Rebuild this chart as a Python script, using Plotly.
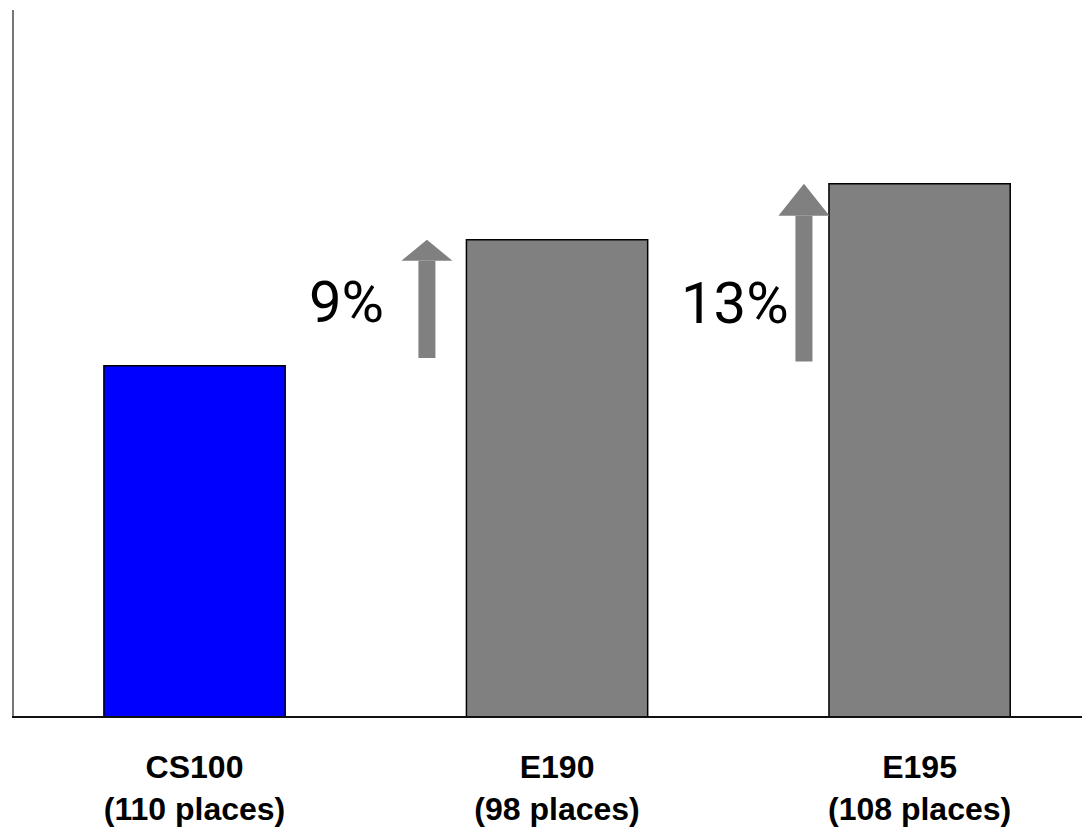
import plotly.graph_objects as go

categories = ["<b>CS100</b><br><b>(110 places)</b>", "<b>E190</b><br><b>(98 places)</b>", "<b>E195</b><br><b>(108 places)</b>"]
values = [100, 109, 113]
colors = ["#0000FF", "#808080", "#808080"]
pct_labels = ["9%", "13%"]
arrow_x = [0.641, 1.681]
label_x = [0.418, 1.492]

xs = list(range(len(categories)))

fig = go.Figure()
fig.add_trace(go.Bar(
    x=xs, y=values, width=0.5,
    marker=dict(color=colors, line=dict(color="black", width=1.5)),
    hoverinfo="skip", showlegend=False,
))

base = values[0]
shapes = []
annotations = []
base_offsets = [0.55, 0.3]
label_dy = [0.05, -2.05]
for i, (ax, lx, lab) in enumerate(zip(arrow_x, label_x, pct_labels)):
    top = values[i + 1]
    head_h = 21 if i == 0 else 32
    shapes.append(dict(
        type="rect", xref="x", yref="y", xsizemode="pixel", xanchor=ax,
        x0=-8.5, x1=8.5, y0=base + base_offsets[i], y1=top - head_h / 14.0,
        fillcolor="#808080", line=dict(width=0), layer="above",
    ))
    shapes.append(dict(
        type="path", xref="x", yref="y", xsizemode="pixel", ysizemode="pixel",
        xanchor=ax, yanchor=top,
        path=f"M -25.5,{-head_h} L 25.5,{-head_h} L 0,0 Z",
        fillcolor="#808080", line=dict(width=0), layer="above",
    ))
    annotations.append(dict(
        x=lx, y=(base + top) / 2 + label_dy[i], xref="x", yref="y",
        text=lab, showarrow=False,
        font=dict(family="Roboto, Liberation Sans, sans-serif", size=58, color="black"),
    ))

fig.update_layout(
    width=1082, height=830,
    margin=dict(l=14, r=0, t=10, b=114),
    plot_bgcolor="white", paper_bgcolor="white",
    shapes=shapes, annotations=annotations,
)
fig.update_xaxes(
    range=[-0.498, 2.448], tickvals=xs, ticktext=categories,
    showgrid=False, zeroline=False, showline=True, linecolor="#111111", linewidth=2,
    ticks="", ticklabelstandoff=22,
    tickfont=dict(family="Liberation Sans, Arial, sans-serif", size=32, color="black"),
)
fig.update_yaxes(
    range=[75, 125.4], showgrid=False, zeroline=False, showticklabels=False,
    showline=True, linecolor="#777777", linewidth=2, ticks="",
)

fig.write_html("out.html")
